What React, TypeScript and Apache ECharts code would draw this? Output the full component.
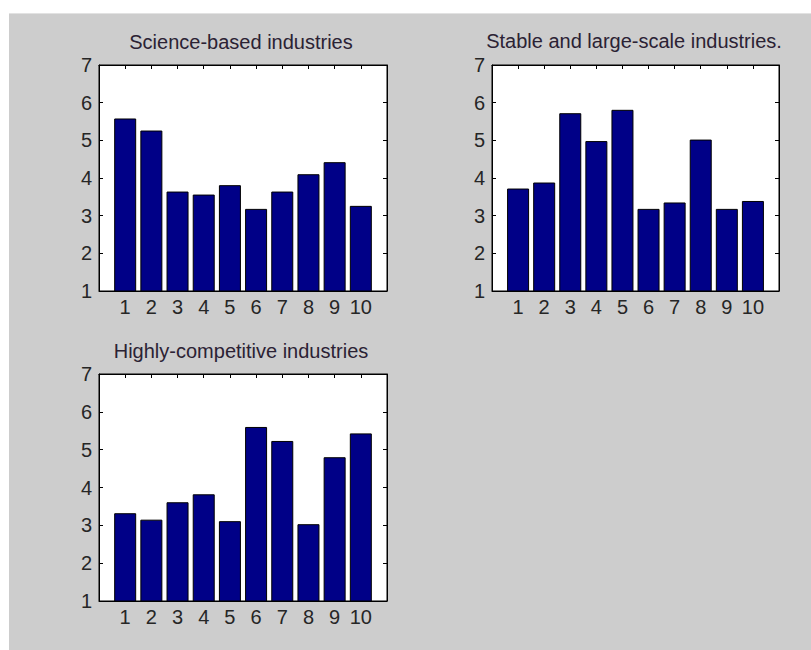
import React, { useEffect, useRef } from "react";
import * as echarts from "echarts";

// Scores for industries 1..10 in each group
const categories = [1, 2, 3, 4, 5, 6, 7, 8, 9, 10];
const scienceBased = [5.58, 5.26, 3.64, 3.56, 3.81, 3.18, 3.64, 4.1, 4.42, 3.26];
const stableLargeScale = [3.72, 3.88, 5.72, 4.98, 5.81, 3.18, 3.35, 5.02, 3.18, 3.39];
const highlyCompetitive = [3.32, 3.15, 3.61, 3.82, 3.11, 5.6, 5.23, 3.03, 4.8, 5.43];
const titles = [
  "Science-based industries",
  "Stable and large-scale industries.",
  "Highly-competitive industries",
];
const yTicks = [1, 2, 3, 4, 5, 6, 7];

const FONT = "'Liberation Sans', Arial, sans-serif";
const BAR_COLOR = "#000087";

const panels = [
  { values: scienceBased, grid: { left: 99, top: 65, width: 288, height: 226 }, titleX: 241, titleY: 32 },
  { values: stableLargeScale, grid: { left: 492, top: 65, width: 287, height: 226 }, titleX: 634, titleY: 31 },
  { values: highlyCompetitive, grid: { left: 99, top: 374, width: 288, height: 227 }, titleX: 241, titleY: 341 },
];

function buildOption() {
  const grid: any[] = [];
  const xAxis: any[] = [];
  const yAxis: any[] = [];
  const series: any[] = [];
  const title: any[] = [];
  const tickLabel = { color: "#262626", fontSize: 20, fontFamily: FONT };
  const line = { show: true, onZero: false, lineStyle: { color: "#000", width: 1 } };
  const tick = { show: true, inside: true, length: 4, lineStyle: { color: "#000" } };

  panels.forEach((p, i) => {
    grid.push({
      ...p.grid,
      show: true,
      backgroundColor: "#ffffff",
      borderColor: "#000",
      borderWidth: 1,
      containLabel: false,
      outerBoundsMode: "none",
    });
    title.push({
      text: titles[i],
      left: p.titleX,
      top: p.titleY,
      textAlign: "center",
      padding: 0,
      textStyle: { color: "#2b2234", fontSize: 20, fontWeight: "normal", fontFamily: FONT },
    });
    // bottom & top x axes (0..11 range, bars centred on 1..10)
    const xBase = { type: "value", gridIndex: i, min: 0, max: 11, interval: 1, splitLine: { show: false }, axisLine: line, axisTick: tick };
    xAxis.push({
      ...xBase,
      position: "bottom",
      axisLabel: {
        ...tickLabel,
        margin: 6,
        formatter: (v: number) => (categories.includes(v) ? String(v) : ""),
      },
    });
    xAxis.push({ ...xBase, position: "top", axisLabel: { show: false } });
    // left & right y axes
    const yBase = {
      type: "value",
      gridIndex: i,
      min: yTicks[0],
      max: yTicks[yTicks.length - 1],
      interval: 1,
      splitLine: { show: false },
      axisLine: line,
      axisTick: tick,
    };
    yAxis.push({ ...yBase, position: "left", axisLabel: { ...tickLabel, margin: 7 } });
    yAxis.push({ ...yBase, position: "right", axisLabel: { show: false } });

    series.push({
      type: "bar",
      xAxisIndex: i * 2,
      yAxisIndex: i * 2,
      data: p.values.map((v, k) => [categories[k], v]),
      barWidth: 22,
      clip: true,
      itemStyle: { color: BAR_COLOR, borderColor: "#000", borderWidth: 1 },
    });
  });

  return {
    animation: false,
    backgroundColor: "#ffffff",
    graphic: [
      {
        type: "rect",
        z: -10,
        silent: true,
        shape: { x: 9, y: 13, width: 802, height: 637 },
        style: { fill: "#cdcdcd" },
      },
      {
        type: "line",
        z: -9,
        silent: true,
        shape: { x1: 9, y1: 13.5, x2: 811, y2: 13.5 },
        style: { stroke: "#e2e2e2", lineWidth: 1 },
      },
    ],
    title,
    grid,
    xAxis,
    yAxis,
    series,
  };
}

export default function App() {
  const ref = useRef<HTMLDivElement>(null);
  useEffect(() => {
    if (!ref.current) return;
    const chart = echarts.init(ref.current, undefined, { renderer: "svg" });
    chart.setOption(buildOption() as any);
    return () => chart.dispose();
  }, []);
  return (
    <div
      ref={ref}
      style={{ position: "fixed", left: 0, top: 0, width: 811, height: 650 }}
    />
  );
}
